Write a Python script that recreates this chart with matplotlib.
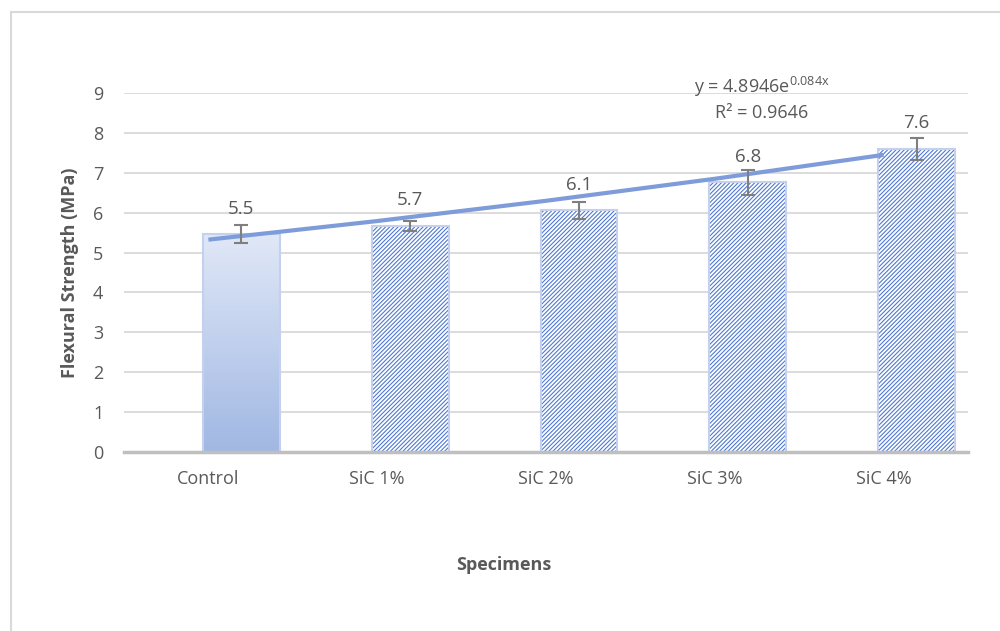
import numpy as np
import matplotlib.pyplot as plt
from matplotlib.patches import Rectangle

categories = ['Control', 'SiC 1%', 'SiC 2%', 'SiC 3%', 'SiC 4%']
strength = [5.46, 5.67, 6.06, 6.76, 7.60]
errors = [0.22, 0.12, 0.21, 0.31, 0.27]
trend_a = 4.8946
trend_b = 0.084
r2 = 0.9646

plt.rcParams['font.family'] = ['Open Sans', 'DejaVu Sans']
plt.rcParams['mathtext.fontset'] = 'custom'
plt.rcParams['mathtext.rm'] = 'Open Sans'
plt.rcParams['hatch.linewidth'] = 0.8
txt = '#595959'

fig = plt.figure(figsize=(10, 6.31), dpi=100)
ax = fig.add_axes([0.124, 1 - 452 / 631, 0.844, 359 / 631])

idx = np.arange(len(categories))
shift = 0.195
w = 0.455
xb = idx + shift

# control bar: vertical gradient
grad = np.linspace(0, 1, 256).reshape(-1, 1)
top_c = np.array([0.88, 0.91, 0.97])
bot_c = np.array([0.63, 0.72, 0.89])
img = top_c * (1 - grad[..., None]) + bot_c * grad[..., None]
ax.imshow(img, extent=[xb[0] - w / 2, xb[0] + w / 2, 0, strength[0]],
          aspect='auto', origin='upper', zorder=2)
ax.add_patch(Rectangle((xb[0] - w / 2, 0), w, strength[0], fill=False,
                       edgecolor='#c3d0ee', lw=1.5, zorder=2.1))

# hatched bars
ax.bar(xb[1:], strength[1:], width=w, color='white', edgecolor='#4f79d4',
       hatch='////////', linewidth=0, zorder=2)
ax.bar(xb[1:], strength[1:], width=w, color='none', edgecolor='#c3d0ee',
       linewidth=1.5, zorder=2.1)

ax.errorbar(xb, strength, yerr=errors, fmt='none', ecolor='#7f7f7f',
            elinewidth=1.5, capsize=5, capthick=1.5, zorder=4)

for x, v in zip(xb, strength):
    ax.annotate(f'{v:.1f}', (x, v), xytext=(0, 12), textcoords='offset points',
                ha='center', va='bottom', fontsize=13.5, color=txt)

# exponential trendline at category positions
xt = idx + 1
ax.plot(idx, trend_a * np.exp(trend_b * xt), color='#7f9cda', lw=3,
        solid_capstyle='butt', zorder=3)

ax.text(3.28, 9.15, r'y = 4.8946e$\mathregular{^{0.084x}}$', ha='center',
        va='center', fontsize=13, color=txt)
ax.text(3.28, 8.5, 'R² = ' + str(r2), ha='center', va='center',
        fontsize=13, color=txt)

ax.set_xlim(-0.5, 4.5)
ax.set_ylim(0, 9)
ax.set_yticks(range(0, 10))
ax.set_xticks(idx)
ax.set_xticklabels(categories)
ax.grid(axis='y', color='#d9d9d9', lw=1.3, zorder=0)
ax.set_axisbelow(True)
for s in ['top', 'right', 'left']:
    ax.spines[s].set_visible(False)
ax.spines['bottom'].set_color('#bfbfbf')
ax.spines['bottom'].set_linewidth(2.5)
ax.spines['bottom'].set_zorder(5)
ax.tick_params(axis='y', length=0, pad=15, labelsize=13, labelcolor=txt)
ax.tick_params(axis='x', length=0, pad=13, labelsize=13, labelcolor=txt)
ax.set_ylabel('Flexural Strength (MPa)', fontsize=13, fontweight='bold',
              color=txt, labelpad=10)
fig.text(0.504, 1 - 565 / 631, 'Specimens', ha='center', va='center',
         fontsize=13, fontweight='bold', color=txt)

fig.patches.append(Rectangle((0.011, -0.1), 1.5, 1.1 - 12 / 631,
                             transform=fig.transFigure, fill=False,
                             edgecolor='#d9d9d9', lw=1.5))

fig.savefig('out.png', dpi=100)
